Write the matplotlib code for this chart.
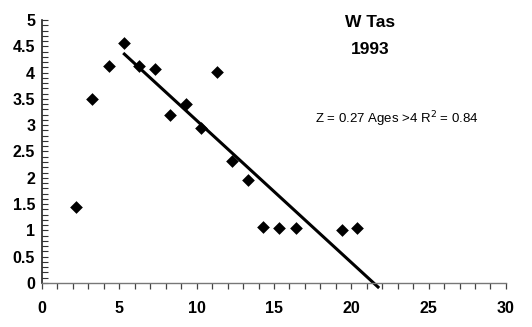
import matplotlib
matplotlib.use("Agg")
import matplotlib.pyplot as plt
import numpy as np
from matplotlib.ticker import MultipleLocator

# Catch-curve observations (age, log catch)
ages = [2.2, 3.2, 4.3, 5.3, 6.3, 7.3, 8.3, 9.3, 10.3, 11.3, 12.3, 13.3,
        14.3, 15.3, 16.4, 19.4, 20.4]
log_catch = [1.44, 3.50, 4.13, 4.56, 4.13, 4.07, 3.19, 3.41, 2.95, 4.01,
             2.31, 1.96, 1.07, 1.05, 1.05, 1.00, 1.05]

# Fitted line for ages > 4: slope = -Z
z_value = 0.27
intercept = 5.79
fit_range = [5.25, 21.8]

x_ticks = [0, 5, 10, 15, 20, 25, 30]
y_ticks = [0, 0.5, 1, 1.5, 2, 2.5, 3, 3.5, 4, 4.5, 5]

plt.rcParams['font.family'] = ['Liberation Sans', 'DejaVu Sans']

fig = plt.figure(figsize=(5.32, 3.27), dpi=100)
ax = fig.add_axes([0.079, 0.1346, 0.872, 0.8042])

ax.scatter(ages, log_catch, marker='D', s=42, color='black', zorder=3,
           linewidths=0)

fx = np.array(fit_range)
ax.plot(fx, intercept - z_value * fx, color='black', lw=2.2,
        solid_capstyle='butt', clip_on=False, zorder=2)

ax.set_xlim(0, 30)
ax.set_ylim(0, 5)
ax.set_xticks(x_ticks)
ax.set_yticks(y_ticks)
ax.set_yticklabels([f"{v:g}" for v in y_ticks])
ax.xaxis.set_minor_locator(MultipleLocator(1))
ax.yaxis.set_minor_locator(MultipleLocator(0.1))

for side in ['top', 'right']:
    ax.spines[side].set_visible(False)
ax.spines['left'].set_color('#222222')
ax.spines['left'].set_linewidth(1.2)
ax.spines['bottom'].set_color('#777777')
ax.spines['bottom'].set_linewidth(1.0)

ax.tick_params(axis='x', which='both', direction='out', length=4,
               width=0.9, color='#444444')
ax.tick_params(axis='x', which='major', pad=9, labelsize=11.5)
ax.tick_params(axis='y', which='both', direction='in', length=4,
               width=0.8, color='#333333')
ax.tick_params(axis='y', which='major', pad=5, labelsize=11.5)
for lab in ax.get_xticklabels() + ax.get_yticklabels():
    lab.set_fontweight('bold')

fig.text(0.695, 0.931, "W Tas", ha='center', va='center',
         fontsize=12.5, fontweight='bold')
fig.text(0.695, 0.850, "1993", ha='center', va='center',
         fontsize=12.5, fontweight='bold')
fig.text(0.746, 0.636, "Z = 0.27 Ages >4 R$^2$ = 0.84", ha='center',
         va='center', fontsize=9.5)

fig.savefig("out.png", dpi=100)
